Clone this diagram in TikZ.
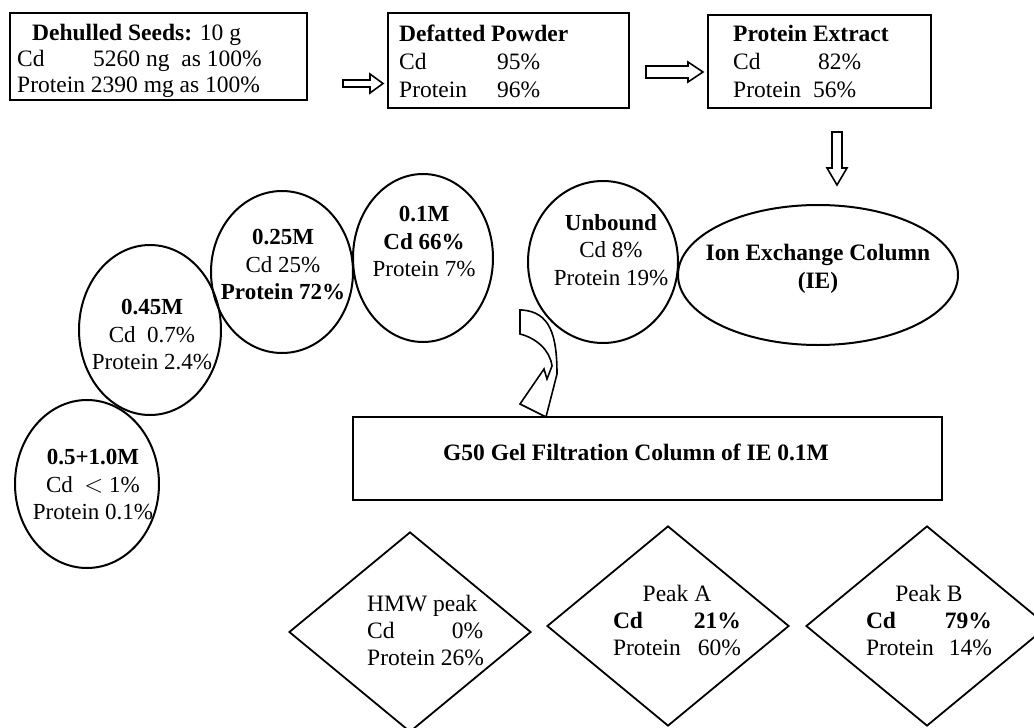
\documentclass[tikz,border=0pt]{standalone}
\usepackage{fontspec}
\setmainfont{Liberation Serif}
\usetikzlibrary{shapes.geometric}
\begin{document}
\begin{tikzpicture}[x=1pt,y=-1pt,
  lbl/.style={font=\fontsize{23}{27.5}\selectfont, inner sep=0pt, align=center},
  lbll/.style={font=\fontsize{23.5}{27}\selectfont, inner sep=0pt, align=left},
  boxshape/.style={draw, rectangle, line width=2pt, inner sep=0pt},
  ell/.style={draw, ellipse, line width=2pt, inner sep=0pt},
  dia/.style={draw, diamond, line width=1.8pt, inner sep=0pt, minimum width=242pt, minimum height=200pt},
  blockarrow/.style={draw, line width=1.6pt, fill=white, line join=miter}]
\useasboundingbox (0,0) rectangle (1034,728);
% top boxes
\node[boxshape, minimum width=297pt, minimum height=87pt] (b1) at (158.5,56.5) {};
\node[boxshape, minimum width=241pt, minimum height=95pt] (b2) at (508.5,60.5) {};
\node[boxshape, minimum width=223pt, minimum height=93pt] (b3) at (819.5,61.5) {};
\node[lbll, anchor=west, font=\fontsize{23.5}{26}\selectfont] (t1) at (17,61)
  {\hspace*{15pt}\textbf{Dehulled Seeds:} 10 g\\
   \makebox[76pt][l]{Cd}5260 ng\ \ as 100\%\\
   Protein 2390 mg as 100\%};
\node[lbll, anchor=west, font=\fontsize{23.5}{28}\selectfont] (t2) at (399,61)
  {\textbf{Defatted Powder}\\
   \makebox[98pt][l]{Cd}95\%\\
   \makebox[98pt][l]{Protein}96\%};
\node[lbll, anchor=west, font=\fontsize{23.5}{28}\selectfont] (t3) at (733,62)
  {\textbf{Protein Extract}\\
   \makebox[85pt][l]{Cd}82\%\\
   \makebox[80pt][l]{Protein}56\%};
% block arrows
\draw[blockarrow] (343,80) -- (370,80) -- (370,74) -- (383,83.5) -- (370,93) -- (370,87) -- (343,87) -- cycle;
\draw[blockarrow] (646,66) -- (688,66) -- (688,62) -- (703,72) -- (688,82) -- (688,78) -- (646,78) -- cycle;
\draw[blockarrow] (832,132) -- (842,132) -- (842,168) -- (847,168) -- (837,185) -- (827,168) -- (832,168) -- cycle;
% ellipses
\node[ell, minimum width=144pt, minimum height=168pt] (e5) at (87,484) {};
\node[ell, minimum width=142pt, minimum height=170pt] (e4) at (150,330) {};
\node[ell, minimum width=142pt, minimum height=162pt] (e3) at (282,272) {};
\node[ell, minimum width=140pt, minimum height=168pt] (e2) at (423,258) {};
\node[ell, minimum width=150pt, minimum height=162pt] (e1) at (603,262) {};
\node[ell, minimum width=280pt, minimum height=140pt] (ie) at (818,275) {};
\node[lbl] (l5) at (93,485) {\textbf{0.5+1.0M}\\Cd\ \ $<$ 1\%\\Protein 0.1\%};
\node[lbl] (l4) at (152,335) {\textbf{0.45M}\\Cd\ \ 0.7\%\\Protein 2.4\%};
\node[lbl] (l3) at (283,265) {\textbf{0.25M}\\Cd 25\%\\\textbf{Protein 72\%}};
\node[lbl] (l2) at (424,242) {\textbf{0.1M}\\\textbf{Cd 66\%}\\Protein 7\%};
\node[lbl] (l1) at (611,250) {\textbf{Unbound}\\Cd 8\%\\Protein 19\%};
\node[lbl, font=\fontsize{23.5}{28}\selectfont] (lie) at (818,269) {\textbf{Ion Exchange Column}\\\textbf{(IE)}};
% curved arrow
\draw[blockarrow, fill=none] (520,310) -- (520,334) .. controls (536,338) and (550,350) .. (552,366)
  -- (547,379) -- (544,369) -- (520,404) -- (546,417) -- (557,374)
  .. controls (557,335) and (550,312) .. (522,310) -- cycle;
% gel filtration box
\node[boxshape, minimum width=589pt, minimum height=83pt] (g50) at (647.5,458.5) {};
\node[lbl, font=\fontsize{23.5}{28}\selectfont] (lg50) at (636,452) {\textbf{G50 Gel Filtration Column of IE 0.1M}};
% diamonds
\node[dia] (d1) at (410,632) {};
\node[dia] (d2) at (668,626) {};
\node[dia] (d3) at (927,626) {};
\node[lbll, anchor=west] (ld1) at (367,630)
  {HMW peak\\\makebox[116pt]{Cd\hfill 0\%}\\Protein 26\%};
\node[lbl, font=\fontsize{23.5}{27}\selectfont] (ld2) at (677,620)
  {Peak A\\\makebox[128pt]{\textbf{Cd}\hfill\textbf{21\%}}\\\makebox[128pt]{Protein\hfill 60\%}};
\node[lbl, font=\fontsize{23.5}{27}\selectfont] (ld3) at (929,620)
  {Peak B\\\makebox[126pt]{\textbf{Cd}\hfill\textbf{79\%}}\\\makebox[126pt]{Protein\hfill 14\%}};
\end{tikzpicture}
\end{document}
